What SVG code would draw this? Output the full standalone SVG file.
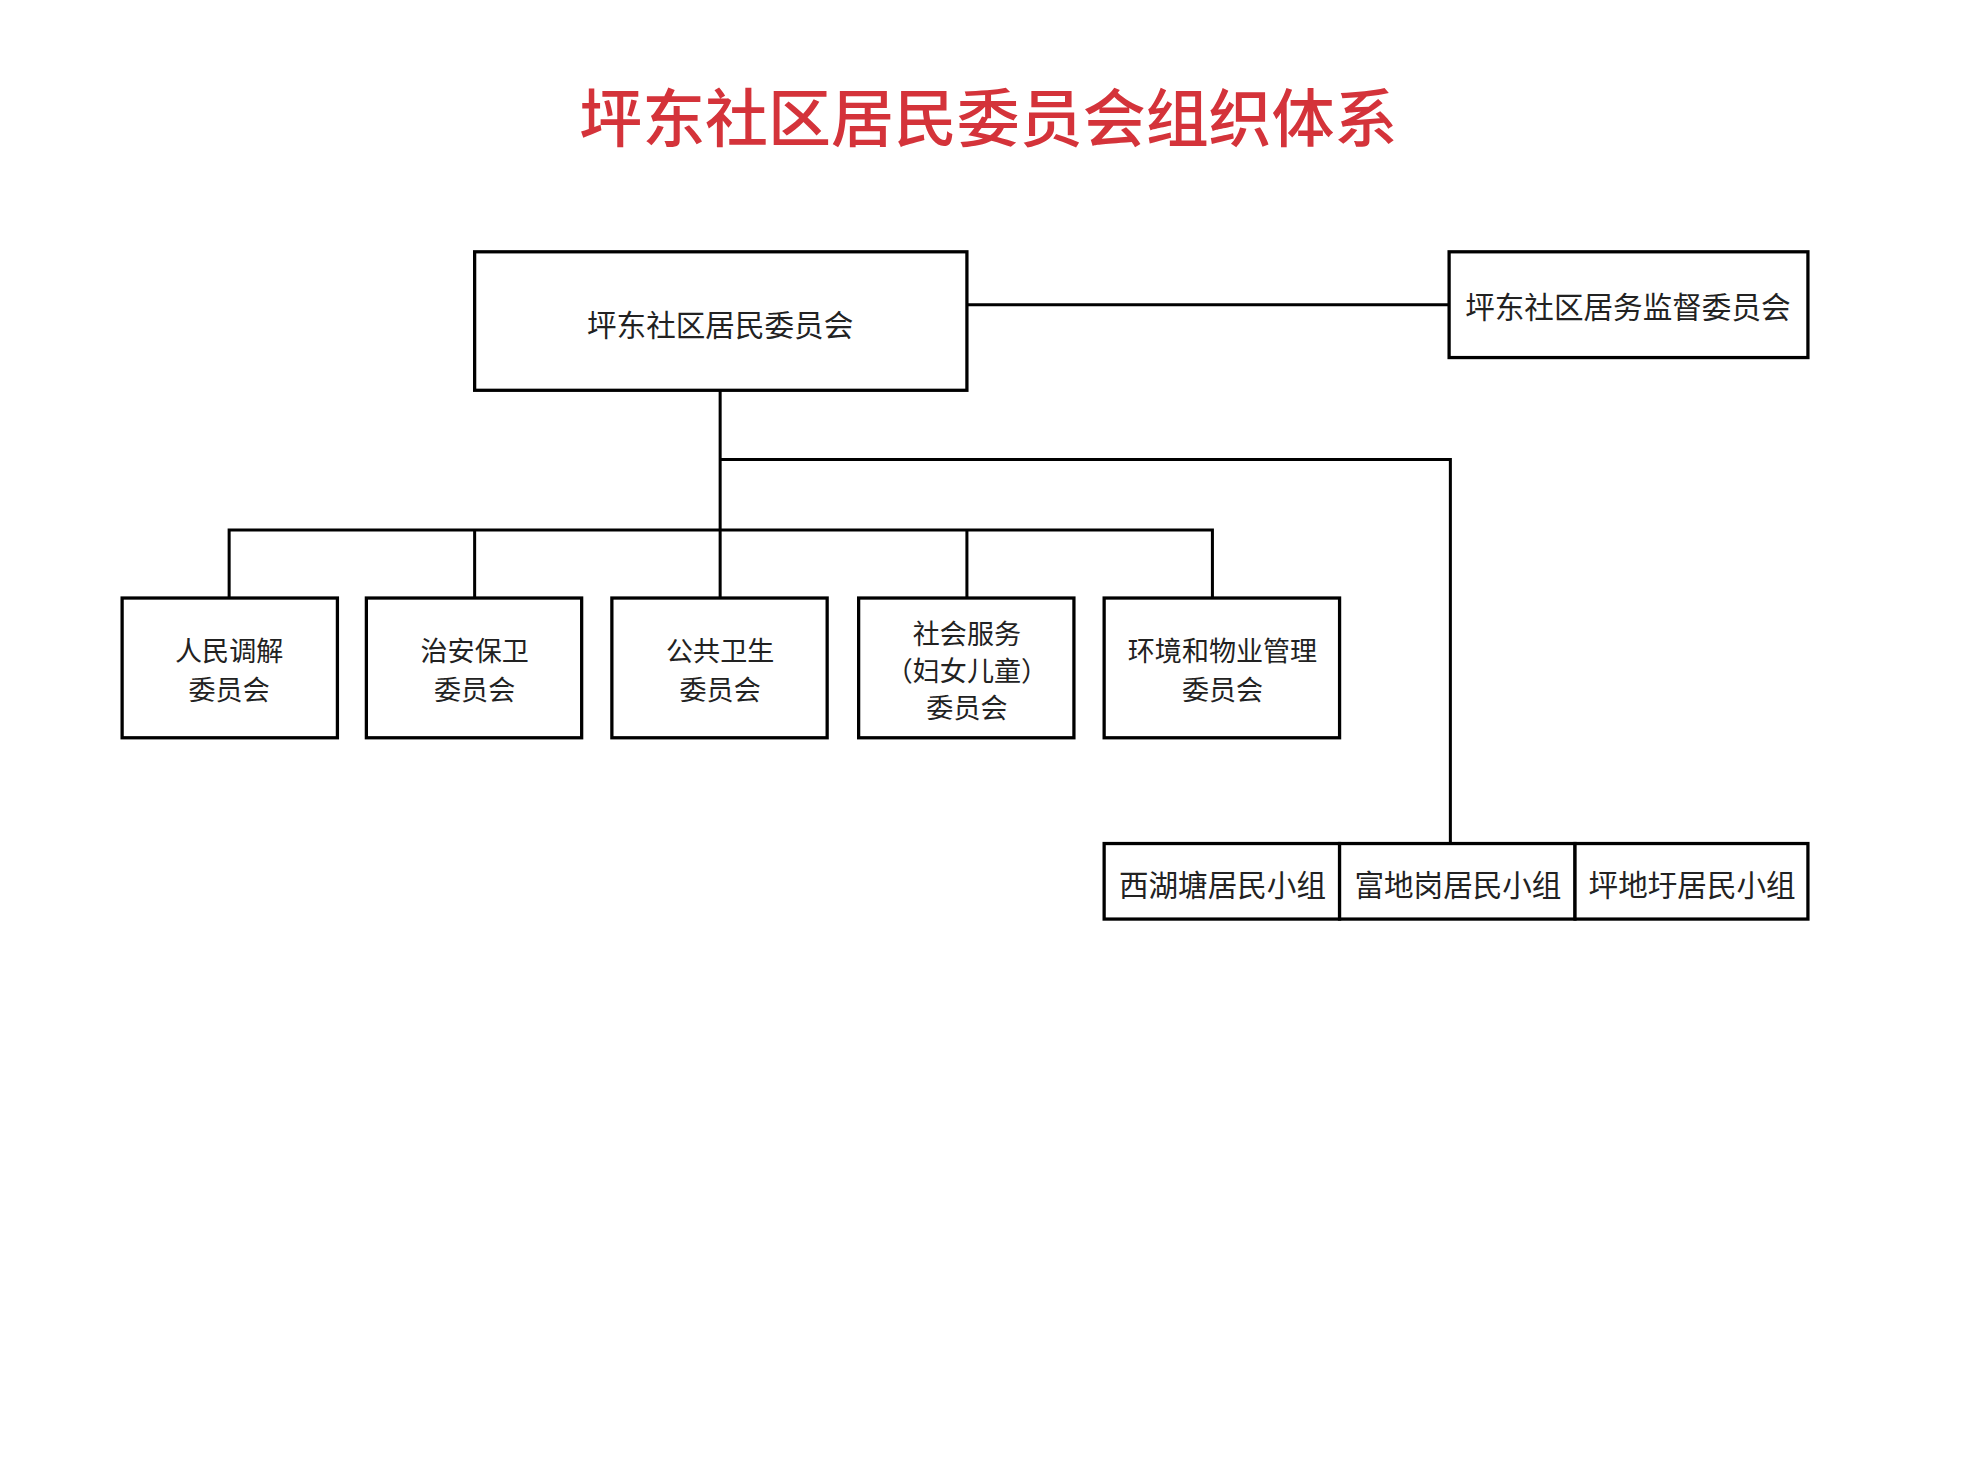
<svg xmlns="http://www.w3.org/2000/svg" width="1975" height="1483" viewBox="0 0 1975 1483">
<style>
.b{fill:#fff;stroke:#000;stroke-width:2.6}
.l{fill:none;stroke:#000;stroke-width:2.4}
.t{font-family:"Noto Sans CJK SC",sans-serif;font-size:23.5px;fill:#222;text-anchor:middle;dominant-baseline:central}
.s{font-size:21.5px}
.h{font-family:"Noto Sans CJK SC",sans-serif;font-size:50px;fill:#d4333a;text-anchor:middle;font-weight:500}
</style>
<rect width="1975" height="1483" fill="#fff"/>
<g transform="scale(1.259)">
<text class="h" x="785" y="112">坪东社区居民委员会组织体系</text>
<g id="connectors">
<path class="l" d="M768 242H1151M572 310V475M572 365H1152V670M182 475V421H963V475M377 421V475M768 421V475"/>
</g>
<g id="n0"><rect class="b" x="377" y="200" width="391" height="110"/><text class="t" x="572" y="257">坪东社区居民委员会</text></g>
<g id="n1"><rect class="b" x="1151" y="200" width="285" height="84"/><text class="t" x="1293" y="243">坪东社区居务监督委员会</text></g>
<g id="n2"><rect class="b" x="97" y="475" width="171" height="111"/><text class="t s" x="182" y="516">人民调解</text><text class="t s" x="182" y="547">委员会</text></g>
<g id="n3"><rect class="b" x="291" y="475" width="171" height="111"/><text class="t s" x="377" y="516">治安保卫</text><text class="t s" x="377" y="547">委员会</text></g>
<g id="n4"><rect class="b" x="486" y="475" width="171" height="111"/><text class="t s" x="572" y="516">公共卫生</text><text class="t s" x="572" y="547">委员会</text></g>
<g id="n5"><rect class="b" x="682" y="475" width="171" height="111"/><text class="t s" x="768" y="502">社会服务</text><text class="t s" x="768" y="532">（妇女儿童）</text><text class="t s" x="768" y="561">委员会</text></g>
<g id="n6"><rect class="b" x="877" y="475" width="187" height="111"/><text class="t s" x="971" y="516">环境和物业管理</text><text class="t s" x="971" y="547">委员会</text></g>
<g id="n7"><rect class="b" x="877" y="670" width="187" height="60"/><text class="t" x="971" y="702">西湖塘居民小组</text></g>
<g id="n8"><rect class="b" x="1064" y="670" width="187" height="60"/><text class="t" x="1158" y="702">富地岗居民小组</text></g>
<g id="n9"><rect class="b" x="1251" y="670" width="185" height="60"/><text class="t" x="1344" y="702">坪地圩居民小组</text></g>
</g>
</svg>
